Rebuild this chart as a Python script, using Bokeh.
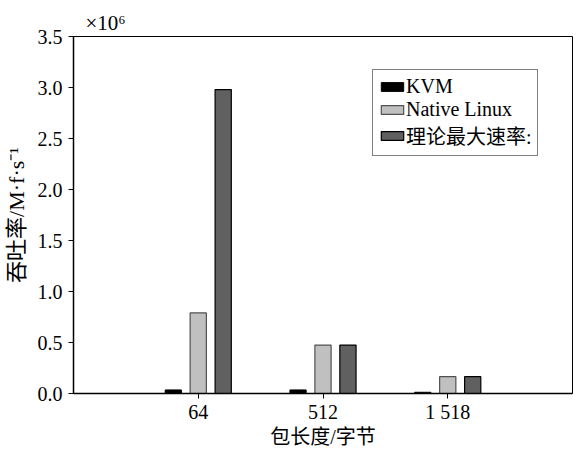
from bokeh.plotting import figure
from bokeh.models import ColumnDataSource, FixedTicker, Legend, LegendItem, Range1d
from bokeh.embed import file_html
from bokeh.resources import INLINE

# Data
categories = ["64", "512", "1 518"]
kvm = [0.035e6, 0.035e6, 0.012e6]
native_linux = [0.79e6, 0.475e6, 0.165e6]
theory_max = [2.98e6, 0.475e6, 0.165e6]
series_names = ["KVM", "Native Linux", "理论最大速率:"]
y_ticks = [0, 0.5e6, 1.0e6, 1.5e6, 2.0e6, 2.5e6, 3.0e6, 3.5e6]
y_tick_labels = ["0.0", "0.5", "1.0", "1.5", "2.0", "2.5", "3.0", "3.5"]
x_title = "包长度/字节"
y_title = "吞吐率/M·f·s⁻¹"
exponent = "×10⁶"

FONT = "'Liberation Serif', 'Noto Sans CJK SC'"

p = figure(width=576, height=450, output_backend="svg", toolbar_location=None,
           x_range=Range1d(0, 4), y_range=Range1d(0, 3.5e6),
           min_border_left=71, min_border_right=4, min_border_top=36, min_border_bottom=56)

xs = list(range(1, len(categories) + 1))
w = 0.13
src_k = ColumnDataSource(dict(x=[v - 0.2 for v in xs], top=kvm))
src_n = ColumnDataSource(dict(x=[v for v in xs], top=native_linux))
src_t = ColumnDataSource(dict(x=[v + 0.2 for v in xs], top=theory_max))

r1 = p.vbar(x="x", top="top", bottom=0, width=w, source=src_k, fill_color="black", line_color="black")
r2 = p.vbar(x="x", top="top", bottom=0, width=w, source=src_n, fill_color="#c0c0c0", line_color="#505050", line_width=1.2)
r3 = p.vbar(x="x", top="top", bottom=0, width=w, source=src_t, fill_color="#606060", line_color="black", line_width=1.2)

p.grid.visible = False
p.outline_line_color = "black"
p.outline_line_width = 1
p.background_fill_color = "white"
p.border_fill_color = "white"

p.xaxis.ticker = FixedTicker(ticks=xs)
p.xaxis.major_label_overrides = {x: c for x, c in zip(xs, categories)}
p.yaxis.ticker = FixedTicker(ticks=y_ticks)
p.yaxis.major_label_overrides = {t: l for t, l in zip(y_ticks, y_tick_labels)}

for ax in (p.xaxis[0], p.yaxis[0]):
    ax.axis_line_color = "black"
    ax.axis_line_width = 1.5
    ax.major_tick_line_color = "black"
    ax.major_tick_in = 0
    ax.major_tick_out = 5
    ax.minor_tick_line_color = None
    ax.major_label_text_font = FONT
    ax.major_label_text_font_size = "20px"
    ax.major_label_text_color = "black"
    ax.axis_label_text_font = FONT
    ax.axis_label_text_font_style = "normal"
    ax.axis_label_text_color = "black"

p.xaxis.axis_label = x_title
p.xaxis.axis_label_text_font_size = "20px"
p.xaxis.major_label_standoff = 2
p.xaxis.axis_label_standoff = 0

p.yaxis.axis_label = y_title
p.yaxis.axis_label_text_font_size = "22px"
p.yaxis.major_label_standoff = 6
p.yaxis.axis_label_standoff = 6

p.title.text = exponent
p.title.align = "left"
p.title.offset = 12
p.title.standoff = 4
p.title.text_font = FONT
p.title.text_font_size = "21px"
p.title.text_font_style = "normal"
p.title.text_color = "black"

legend = Legend(items=[LegendItem(label=series_names[0], renderers=[r1]),
                       LegendItem(label=series_names[1], renderers=[r2]),
                       LegendItem(label=series_names[2], renderers=[r3])],
                location=(299, 237))
legend.border_line_color = "black"
legend.border_line_width = 1
legend.background_fill_alpha = 1
legend.label_text_font = FONT
legend.label_text_font_size = "20px"
legend.label_text_color = "black"
legend.glyph_width = 28
legend.glyph_height = 11
legend.label_height = 20
legend.label_standoff = 0
legend.spacing = 0
legend.padding = 5
legend.margin = 0
p.add_layout(legend, "center")

open("out.html", "w").write(file_html(p, INLINE))
